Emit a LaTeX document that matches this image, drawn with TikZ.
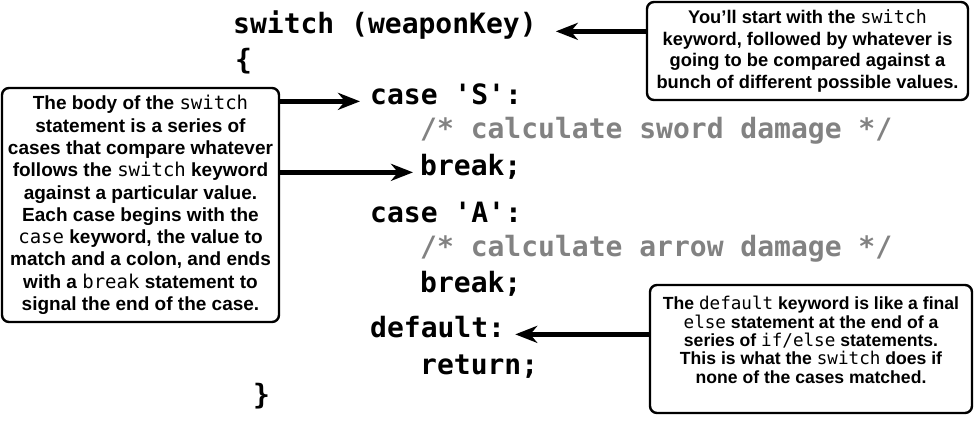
\documentclass[tikz,border=0pt]{standalone}
\usepackage{fontspec}
\setmainfont{Liberation Sans}
\setmonofont{DejaVu Sans Mono}
\usepackage{tikz}
\usetikzlibrary{arrows.meta}
\definecolor{cmtgray}{RGB}{130,130,130}
\newcommand{\kw}[1]{{\mdseries\ttfamily #1}}

\begin{document}
\begin{tikzpicture}[x=1pt,y=-1pt,
    code/.style={anchor=base west,inner sep=0pt,font=\fontsize{28}{30}\selectfont\ttfamily\bfseries},
    cmt/.style={code,text=cmtgray},
    note/.style={draw,line width=2.4pt,rounded corners=7pt,align=center,inner sep=0pt},
    arr/.style={-{Stealth[length=22pt,width=17pt,inset=7pt]},line width=4.5pt}]
    \useasboundingbox (0,0) rectangle (976,428);

    % the code
    \node (sw) at (233,34) [code]{switch (weaponKey)};
    \node (lbrace) at (235,70) [code]{\{};
    \node (caseS) at (370,104) [code]{case 'S':};
    \node (cmtS) at (420,138) [cmt]{/* calculate sword damage */};
    \node (brkS) at (420,175) [code]{break;};
    \node (caseA) at (370,222) [code]{case 'A':};
    \node (cmtA) at (420,256) [cmt]{/* calculate arrow damage */};
    \node (brkA) at (420,292) [code]{break;};
    \node (dflt) at (370,337) [code]{default:};
    \node (ret) at (420,374) [code]{return;};
    \node (rbrace) at (253,404) [code]{\}};

    % the notes
    \node (boxsw) at (807.5,51) [note,minimum width=321pt,minimum height=98pt,
        font=\fontsize{18.3}{21.7}\selectfont\bfseries]
        {You’ll start with the \kw{switch}\\ keyword, followed by whatever is\\
         going to be compared against a\\ bunch of different possible values.};
    \node (boxbody) at (140.5,205) [note,minimum width=277pt,minimum height=234pt,
        font=\fontsize{19}{22.3}\selectfont\bfseries]
        {The body of the \kw{switch}\\ statement is a series of\\
         cases that compare whatever\\ follows the \kw{switch} keyword\\
         against a particular value.\\ Each case begins with the\\
         \kw{case} keyword, the value to\\ match and a colon, and ends\\
         with a \kw{break} statement to\\ signal the end of the case.};
    \node (boxdflt) at (811,349) [note,minimum width=322pt,minimum height=128pt,
        font=\fontsize{17.6}{18.3}\selectfont\bfseries]
        {The \kw{default} keyword is like a final\\ \kw{else} statement at the end of a\\
         series of \kw{if/else} statements.\\ This is what the \kw{switch} does if\\
         none of the cases matched.\\ \mbox{}};

    \draw [arr,shorten >=19pt](boxsw.west |- sw.mid east) --(sw.mid east);
    \draw [arr,shorten >=10pt](boxbody.east |- caseS.mid west) --(caseS.mid west);
    \draw [arr,shorten >=7pt](boxbody.east |- brkS.mid west) --(brkS.mid west);
    \draw [arr,shorten >=10pt](boxdflt.west |- dflt.mid east) --(dflt.mid east);
\end{tikzpicture}
\end{document}
